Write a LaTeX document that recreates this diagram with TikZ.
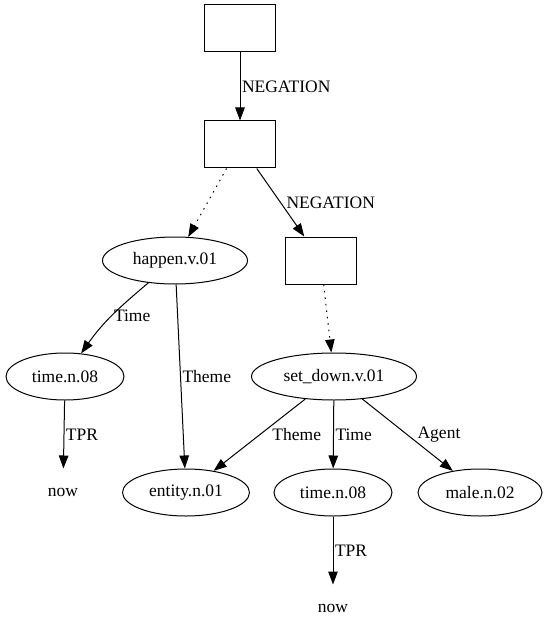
\documentclass[tikz,border=0pt]{standalone}
\usepackage{fontspec}
\setmainfont{Liberation Serif}
\usetikzlibrary{shapes.geometric, arrows.meta, positioning}
\tikzstyle{drs} = [rectangle, 
minimum width=71pt, 
minimum height=47pt, 
draw=black, line width=1pt]
\tikzstyle{sense} = [ellipse, 
minimum height=47pt, 
inner sep=0pt, 
draw=black, line width=1pt]
\tikzstyle{const} = [minimum height=47pt, inner sep=0pt]
\tikzstyle{arrow} = [line width=1pt,-{Triangle[length=13pt,width=9.5pt]},draw=black]
\tikzstyle{dots} = [dash pattern=on 1.5pt off 5pt]
\tikzstyle{lbl} = [anchor=west, inner sep=1.5pt]
\begin{document}
\begin{tikzpicture}[x=1pt, y=1pt, node distance=68pt, every node/.style={font=\fontsize{17.5}{21}\selectfont}]
        \useasboundingbox (0,0) rectangle (547,-639);

        % Nodes
        \node (top) [drs] at (240,-28.5) {};
        \node (neg) [drs, below=of top] {};
        \node (happen) [sense, minimum width=145pt, below=of neg, xshift=-65pt] {happen.v.01};
        \node (inner) [drs, below=of neg, xshift=81pt] {};
        \node (timeA) [sense, minimum width=118pt, below=of happen, xshift=-110pt] {time.n.08};
        \node (setdown) [sense, minimum width=165pt, below=of inner, xshift=13pt] {set\_down.v.01};
        \node (nowA) [const, below=of timeA, xshift=-2pt] {now};
        \node (entity) [sense, minimum width=127pt, below=of setdown, xshift=-148pt] {entity.n.01};
        \node (timeB) [sense, minimum width=118pt, below=of setdown, xshift=-1pt] {time.n.08};
        \node (male) [sense, minimum width=124pt, below=of setdown, xshift=146pt] {male.n.02};
        \node (nowB) [const, below=of timeB] {now};

        % Connections
        \draw [arrow] (top) -- node[lbl] {NEGATION} (neg);
        \draw [arrow, dots] (neg) -- (happen);
        \draw [arrow] (neg) -- node[lbl, xshift=4pt] {NEGATION} (inner);
        \draw [arrow, dots] (inner) -- (setdown);
        \draw [arrow] (happen) to[out=-140, in=55] node[lbl] {Time} (timeA);
        \draw [arrow] (happen) -- node[lbl] {Theme} (entity);
        \draw [arrow] (timeA) -- node[lbl] {TPR} (nowA);
        \draw [arrow] (setdown) -- node[lbl, xshift=11pt] {Theme} (entity);
        \draw [arrow] (setdown) -- node[lbl] {Time} (timeB);
        \draw [arrow] (setdown) -- node[lbl, xshift=8pt] {Agent} (male);
        \draw [arrow] (timeB) -- node[lbl] {TPR} (nowB);

\end{tikzpicture}
\end{document}
